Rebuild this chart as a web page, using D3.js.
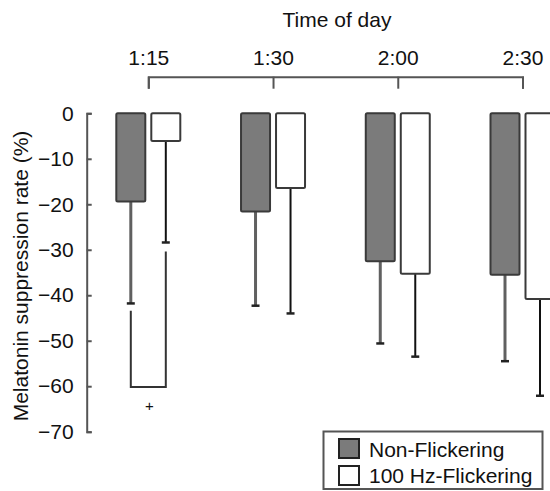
<!DOCTYPE html>
<html>
<head>
<meta charset="utf-8">
<script src="https://cdn.jsdelivr.net/npm/d3@7"></script>
<style>
  html, body { margin: 0; padding: 0; background: #fff; }
  svg { display: block; }
  text { font-family: "Liberation Sans", Arial, sans-serif; fill: #111; }
</style>
</head>
<body>
<svg id="chart" width="550" height="491"></svg>
<script>
// ---- data ----
const times = ["1:15", "1:30", "2:00", "2:30"];
const seriesNames = ["Non-Flickering", "100 Hz-Flickering"];
const nonFlickeringMean = [-19.4, -21.6, -32.5, -35.5];
const nonFlickeringSD = [22.4, 20.7, 18.1, 19.0];
const flickeringMean = [-6.1, -16.4, -35.3, -40.8];
const flickeringSD = [22.3, 27.6, 18.2, 21.3];
const yTicks = [0, -10, -20, -30, -40, -50, -60, -70];
// significance bracket at 1:15: start (dark side), bottom, end (white side), marker level
const bracketLevels = [-43.4, -60.2, -30.4];
const markerLevel = -64.3;
const markerText = "+";

// ---- layout ----
const svg = d3.select("#chart");
const x = d3.scalePoint().domain(times).range([148.3, 522.5]);
const y = d3.scaleLinear().domain([-70, 0]).range([431.7, 113.3]);
const barW = 29, gap = 6;
const fills = ["#7b7b7b", "#ffffff"];
const strokes = ["#3a3a3a", "#3a3a3a"];
const errStroke = ["#606060", "#111"];
const errWidth = [3, 2];

const series = [
  times.map((t, i) => ({t, mean: nonFlickeringMean[i], sd: nonFlickeringSD[i], s: 0})),
  times.map((t, i) => ({t, mean: flickeringMean[i], sd: flickeringSD[i], s: 1}))
];
const bx = d => x(d.t) + (d.s === 0 ? -gap / 2 - barW : gap / 2);
const cx = d => bx(d) + barW / 2;

// y axis
const yAxis = d3.axisLeft(y).tickValues(yTicks).tickSizeInner(-5).tickSizeOuter(-5).tickPadding(13);
const gy = svg.append("g").attr("transform", "translate(86.7,0)").call(yAxis);
gy.selectAll("path, line").attr("stroke", "#555").attr("stroke-width", 2);
gy.selectAll("text").attr("font-size", 21).style("font-family", "'Liberation Sans', Arial, sans-serif").attr("fill", "#111");

// top axis
const xAxis = d3.axisTop(x).tickSizeInner(-12).tickSizeOuter(-12).tickPadding(12);
const gx = svg.append("g").attr("transform", "translate(0,76.7)").call(xAxis);
gx.selectAll("path, line").attr("stroke", "#555").attr("stroke-width", 2);
gx.selectAll("text").attr("font-size", 21).style("font-family", "'Liberation Sans', Arial, sans-serif").attr("fill", "#111");

svg.append("text").attr("x", 337).attr("y", 27).attr("text-anchor", "middle")
  .attr("font-size", 21).text("Time of day");

svg.append("text").attr("transform", "translate(28,276) rotate(-90)").attr("text-anchor", "middle")
  .attr("font-size", 21).text("Melatonin suppression rate (%)");

// bars + error bars
series.forEach((ser, s) => {
  const g = svg.append("g");
  g.selectAll("line.err").data(ser).enter().append("line")
    .attr("x1", cx).attr("x2", cx)
    .attr("y1", d => y(d.mean)).attr("y2", d => y(d.mean - d.sd))
    .attr("stroke", errStroke[s]).attr("stroke-width", errWidth[s]);
  g.selectAll("line.cap").data(ser).enter().append("line")
    .attr("x1", d => cx(d) - 4).attr("x2", d => cx(d) + 4)
    .attr("y1", d => y(d.mean - d.sd)).attr("y2", d => y(d.mean - d.sd))
    .attr("stroke", "#222").attr("stroke-width", 2.5);
  g.selectAll("rect").data(ser).enter().append("rect")
    .attr("x", bx).attr("width", barW)
    .attr("y", y(0)).attr("height", d => y(d.mean) - y(0))
    .attr("rx", 1.5)
    .attr("fill", fills[s]).attr("stroke", strokes[s]).attr("stroke-width", 2);
});

// significance bracket at first time point
const d0 = series[0][0], d1 = series[1][0];
svg.append("path")
  .attr("d", d3.line()([
    [cx(d0), y(bracketLevels[0])],
    [cx(d0), y(bracketLevels[1])],
    [cx(d1), y(bracketLevels[1])],
    [cx(d1), y(bracketLevels[2])]
  ]))
  .attr("fill", "none").attr("stroke", "#333").attr("stroke-width", 2);
svg.append("text").attr("x", x(times[0]) + 1).attr("y", y(markerLevel)).attr("dy", "0.35em")
  .attr("text-anchor", "middle").attr("font-size", 15).attr("fill", "#334").text(markerText);

// legend
const lg = svg.append("g");
lg.append("rect").attr("x", 323.5).attr("y", 431.5).attr("width", 219).attr("height", 57.5)
  .attr("fill", "#fff").attr("stroke", "#555").attr("stroke-width", 2);
seriesNames.forEach((name, i) => {
  lg.append("rect").attr("x", 339).attr("y", 439 + i * 27).attr("width", 20).attr("height", 19)
    .attr("fill", fills[i]).attr("stroke", "#222").attr("stroke-width", 2);
  lg.append("text").attr("x", 369).attr("y", 456.5 + i * 26.8).attr("font-size", 21).text(name);
});
</script>
</body>
</html>
